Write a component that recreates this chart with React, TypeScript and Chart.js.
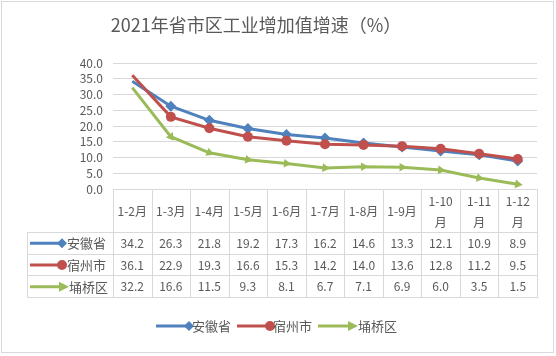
import React, { useEffect, useRef } from "react";
import { Chart, registerables } from "chart.js";

Chart.register(...registerables);

const categories = ["1-2月", "1-3月", "1-4月", "1-5月", "1-6月", "1-7月", "1-8月", "1-9月", "1-10月", "1-11月", "1-12月"];
const headerLines = [["1-2月"], ["1-3月"], ["1-4月"], ["1-5月"], ["1-6月"], ["1-7月"], ["1-8月"], ["1-9月"], ["1-10", "月"], ["1-11", "月"], ["1-12", "月"]];
const seriesNames = ["安徽省", "宿州市", "埇桥区"];
const anhui = [34.2, 26.3, 21.8, 19.2, 17.3, 16.2, 14.6, 13.3, 12.1, 10.9, 8.9];
const suzhou = [36.1, 22.9, 19.3, 16.6, 15.3, 14.2, 14.0, 13.6, 12.8, 11.2, 9.5];
const yongqiao = [32.2, 16.6, 11.5, 9.3, 8.1, 6.7, 7.1, 6.9, 6.0, 3.5, 1.5];
const title = "2021年省市区工业增加值增速（%）";

const COLORS = ["#4F81BD", "#C0504D", "#9BBB59"];
const STYLES = ["rectRot", "circle", "triangle"];
const TEXT = "#595959";
const GRID = "#D9D9D9";
const FONT = "'Noto Sans CJK SC', 'Noto Sans', sans-serif";

function drawMarker(ctx: CanvasRenderingContext2D, style: string, x: number, y: number, color: string, rot: number) {
  ctx.save();
  ctx.fillStyle = color;
  ctx.strokeStyle = color;
  ctx.beginPath();
  if (style === "circle") {
    ctx.arc(x, y, 5, 0, Math.PI * 2);
  } else if (style === "rectRot") {
    ctx.moveTo(x, y - 5);
    ctx.lineTo(x + 5, y);
    ctx.lineTo(x, y + 5);
    ctx.lineTo(x - 5, y);
    ctx.closePath();
  } else {
    ctx.translate(x, y);
    ctx.rotate(rot);
    ctx.moveTo(6, 0);
    ctx.lineTo(-4, -5);
    ctx.lineTo(-4, 5);
    ctx.closePath();
  }
  ctx.fill();
  ctx.restore();
}

function drawLegendGlyph(ctx: CanvasRenderingContext2D, i: number, x0: number, x1: number, y: number) {
  ctx.save();
  ctx.strokeStyle = COLORS[i];
  ctx.lineWidth = 3;
  ctx.beginPath();
  ctx.moveTo(x0, y);
  ctx.lineTo(i === 2 ? x1 - 4 : x1, y);
  ctx.stroke();
  ctx.restore();
  if (i === 2) drawMarker(ctx, STYLES[i], x1 - 2, y, COLORS[i], 0);
  else drawMarker(ctx, STYLES[i], x1 - 3, y, COLORS[i], 0);
}

const tablePlugin = {
  id: "tablePlugin",
  afterDraw(chart: any) {
    const ctx: CanvasRenderingContext2D = chart.ctx;
    const xs = chart.scales.x;
    const area = chart.chartArea;
    const n = categories.length;
    const colW = (area.right - area.left) / n;
    const top = area.bottom;
    const headerBottom = top + 43;
    const rowH = 21.7;
    const rowTops = [headerBottom, headerBottom + rowH, headerBottom + rowH * 2];
    const tableBottom = headerBottom + rowH * 3;
    const labelLeft = 27;

    ctx.save();
    // outer border
    ctx.strokeStyle = GRID;
    ctx.lineWidth = 1;
    ctx.strokeRect(1.5, 1.5, 552, 351);

    // title
    ctx.fillStyle = TEXT;
    ctx.font = `18px ${FONT}`;
    ctx.textAlign = "center";
    ctx.textBaseline = "middle";
    ctx.fillText(title, 256, 25);

    // table lines
    ctx.strokeStyle = GRID;
    ctx.lineWidth = 1;
    ctx.beginPath();
    for (let i = 0; i <= n; i++) {
      const x = Math.round(area.left + i * colW) + 0.5;
      ctx.moveTo(x, top);
      ctx.lineTo(x, tableBottom);
    }
    ctx.moveTo(labelLeft + 0.5, headerBottom);
    ctx.lineTo(labelLeft + 0.5, tableBottom);
    [headerBottom, headerBottom + rowH, headerBottom + rowH * 2, tableBottom].forEach((yy) => {
      const y = Math.round(yy) + 0.5;
      ctx.moveTo(labelLeft, y);
      ctx.lineTo(area.right + 1, y);
    });
    ctx.stroke();

    // header
    ctx.fillStyle = TEXT;
    ctx.font = `12px ${FONT}`;
    ctx.textAlign = "center";
    ctx.textBaseline = "middle";
    headerLines.forEach((lines, i) => {
      const cx = xs.getPixelForValue(i);
      if (lines.length === 1) {
        ctx.fillText(lines[0], cx, (top + headerBottom) / 2 + 1);
      } else {
        ctx.fillText(lines[0], cx, top + 12);
        ctx.fillText(lines[1], cx, top + 33);
      }
    });

    // rows
    const data = [anhui, suzhou, yongqiao];
    data.forEach((vals, r) => {
      const cy = rowTops[r] + rowH / 2 + 0.5;
      ctx.font = `12px ${FONT}`;
      ctx.textAlign = "center";
      ctx.fillStyle = TEXT;
      vals.forEach((v, i) => {
        ctx.fillText(v.toFixed(1), xs.getPixelForValue(i), cy);
      });
      drawLegendGlyph(ctx, r, 30, 65, cy);
      ctx.fillStyle = TEXT;
      ctx.font = `13px ${FONT}`;
      ctx.textAlign = "left";
      ctx.fillText(seriesNames[r], r === 2 ? 69 : 67, cy);
    });

    // legend
    const ly = 326;
    const starts = [156, 237, 318];
    ctx.font = `13px ${FONT}`;
    starts.forEach((sx, i) => {
      drawLegendGlyph(ctx, i, sx, sx + 36, ly);
      ctx.fillStyle = TEXT;
      ctx.textAlign = "left";
      ctx.fillText(seriesNames[i], i === 2 ? sx + 40 : sx + 36, ly);
    });
    ctx.restore();
  },
};

function makeDataset(label: string, data: number[], i: number, order: number) {
  return {
    label,
    data,
    borderColor: COLORS[i],
    backgroundColor: COLORS[i],
    borderWidth: 3,
    pointStyle: STYLES[i],
    pointRadius: (c: any) => (c.dataIndex === 0 ? 0 : i === 0 ? 5.5 : 5),
    pointHoverRadius: 5,
    pointBorderWidth: 0,
    pointRotation: (c: any) => {
      if (i !== 2) return 0;
      const idx = c.dataIndex;
      if (idx === 0) return 0;
      const sx = c.chart.scales.x;
      const sy = c.chart.scales.y;
      const dx = sx.getPixelForValue(idx) - sx.getPixelForValue(idx - 1);
      const dy = sy.getPixelForValue(data[idx]) - sy.getPixelForValue(data[idx - 1]);
      return 90 + (Math.atan2(dy, dx) * 180) / Math.PI;
    },
    tension: 0,
    fill: false,
    order,
  };
}

export default function App() {
  const ref = useRef<HTMLCanvasElement>(null);
  useEffect(() => {
    document.body.style.margin = "0";
    const chart = new Chart(ref.current!, {
      type: "line",
      data: {
        labels: categories,
        datasets: [
          makeDataset(seriesNames[0], anhui, 0, 3),
          makeDataset(seriesNames[1], suzhou, 1, 2),
          makeDataset(seriesNames[2], yongqiao, 2, 1),
        ],
      },
      options: {
        animation: false,
        responsive: false,
        devicePixelRatio: 1,
        layout: { padding: { left: 73, right: 19, top: 63, bottom: 167 } },
        plugins: { legend: { display: false }, title: { display: false }, tooltip: { enabled: false } },
        scales: {
          x: {
            display: false,
            offset: true,
            grid: { offset: true },
          },
          y: {
            min: 0,
            max: 40,
            afterFit: (s: any) => {
              s.width = 40;
            },
            border: { display: false },
            grid: { color: GRID, drawTicks: false, lineWidth: 1 },
            ticks: {
              stepSize: 5,
              autoSkip: false,
              padding: 10,
              color: TEXT,
              font: { family: FONT, size: 12 },
              callback: (v: any) => Number(v).toFixed(1),
            },
          },
        },
      },
      plugins: [tablePlugin],
    });
    return () => chart.destroy();
  }, []);
  return (
    <div style={{ width: 556, height: 356, background: "#fff" }}>
      <canvas ref={ref} width={556} height={356} style={{ display: "block" }} />
    </div>
  );
}
